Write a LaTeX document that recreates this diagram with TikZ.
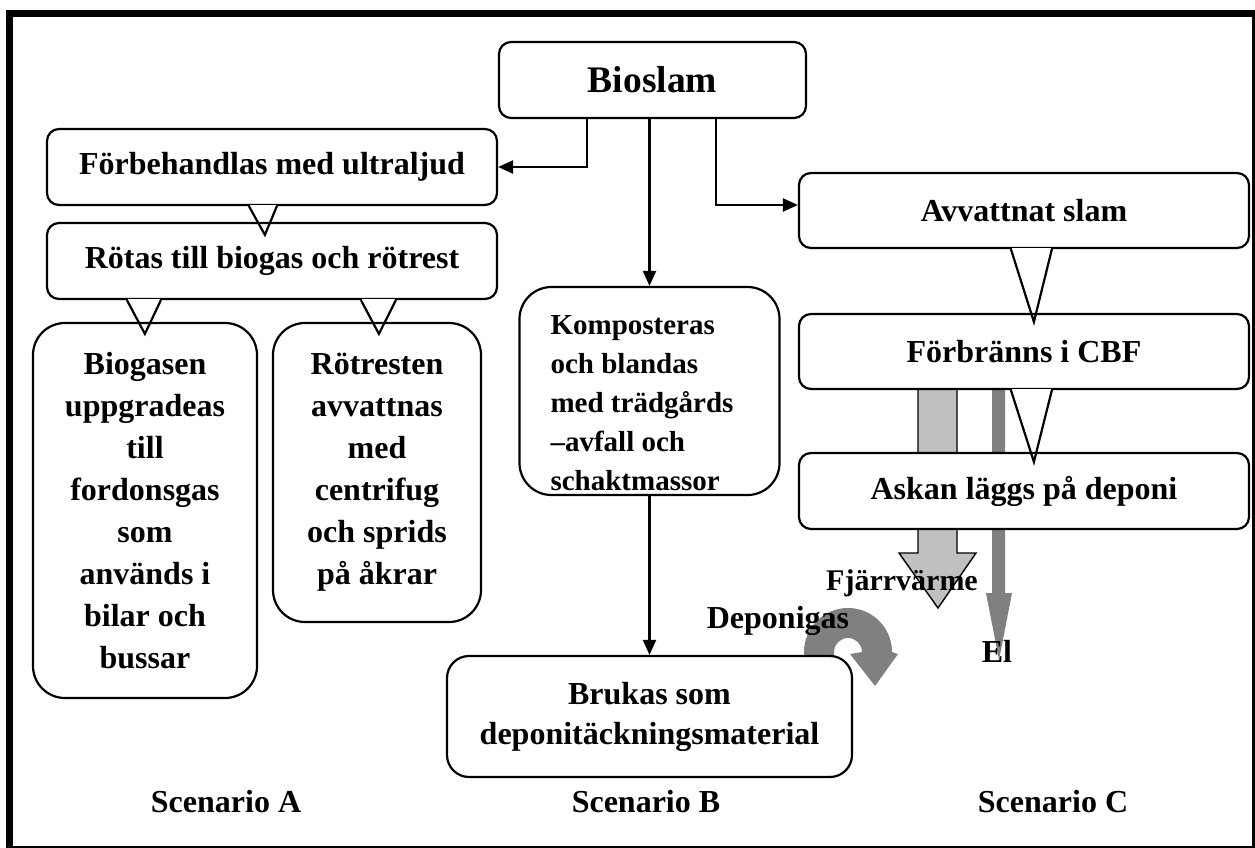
\documentclass[tikz,border=0pt]{standalone}
\usepackage{fontspec}
\setmainfont{Liberation Serif}
\usetikzlibrary{arrows.meta,calc}
\definecolor{lightgrey}{HTML}{C0C0C0}
\definecolor{midgrey}{HTML}{808080}
\begin{document}
\begin{tikzpicture}[x=1pt,y=-1pt,
  rbox/.style={draw,line width=2.2pt,fill=white,rounded corners=12pt,inner sep=0pt,
    align=center,font=\bfseries\fontsize{32}{42}\selectfont},
  tallbox/.style={rbox,rounded corners=32pt},
  conn/.style={line width=2.2pt,-{Triangle[length=15pt,width=13pt]}},
  tailline/.style={line width=2.2pt,line join=miter},
  lbl/.style={inner sep=0pt,font=\bfseries\fontsize{32}{40}\selectfont},
]
\useasboundingbox (0,0) rectangle (1255,848);

% page frame: heavy left and top rules, light right and bottom rules
\fill (6,10) rectangle (13,848);
\fill (6,10) rectangle (1255,17);
\fill (1252,10) rectangle (1255,848);
\fill (6,846) rectangle (1255,848);

% energy outputs of scenario C (behind the boxes)
\filldraw[fill=lightgrey,draw=black,line width=1.4pt]
  (918,385) -- (918,553) -- (899,553) -- (938,608) -- (976,553) -- (957,553) -- (957,385) -- cycle;
\fill[midgrey]
  (992,385) -- (992,593) -- (986,593) -- (999,660) -- (1012,593) -- (1005,593) -- (1005,385) -- cycle;

% curved landfill-gas arrow of scenario B
\fill[midgrey] (804,662) -- (804,652) arc[start angle=180,end angle=0,radius=44pt]
  -- (898,654) -- (875,686) -- (850,654) -- (862,652)
  arc[start angle=0,end angle=180,radius=14pt] -- (834,662) -- cycle;

% boxes
\node[rbox,minimum width=307pt,minimum height=76pt,font=\bfseries\fontsize{37.5}{40}\selectfont]
  (bio) at (652.5,80) {Bioslam};

\node[rbox,minimum width=450pt,minimum height=76pt] (forb) at (272,167) {Förbehandlas med ultraljud};
\node[rbox,minimum width=450pt,minimum height=76pt] (rot) at (272,261) {Rötas till biogas och rötrest};
\node[tallbox,minimum width=224pt,minimum height=375pt] (biog) at (145,510.5)
  {Biogasen\\uppgradeas\\till\\fordonsgas\\som\\används i\\bilar och\\bussar};
\node[tallbox,minimum width=208pt,minimum height=299pt] (rotr) at (377,472.5)
  {Rötresten\\avvattnas\\med\\centrifug\\och sprids\\på åkrar};

\node[tallbox,minimum width=260pt,minimum height=208pt] (komp) at (649.5,391) {};
\node[inner sep=0pt,align=left,font=\bfseries\fontsize{29}{39}\selectfont] (kompt) at (642,403.5)
  {Komposteras\\och blandas\\med trädgårds\\–avfall och\\schaktmassor};
\node[rbox,rounded corners=22pt,minimum width=405pt,minimum height=121pt,
  font=\bfseries\fontsize{32}{40}\selectfont] (bruk) at (649.5,716.5)
  {Brukas som\\deponitäckningsmaterial};

\node[rbox,minimum width=450pt,minimum height=75pt] (avv) at (1024,210.5) {Avvattnat slam};
\node[rbox,minimum width=450pt,minimum height=75pt] (forbr) at (1024,351.5) {Förbränns i CBF};
\node[rbox,minimum width=450pt,minimum height=76pt] (ask) at (1024,491) {Askan läggs på deponi};

% callout tails: base points on the upper box, tip inside the lower box
\coordinate (t1a) at ($(forb.south west)+(203,0)$);
\coordinate (t1b) at ($(forb.south west)+(231,0)$);
\coordinate (t1t) at ($(rot.north west)+(219,13)$);
\coordinate (t2a) at ($(rot.south west)+(81,0)$);
\coordinate (t2b) at ($(rot.south west)+(115,0)$);
\coordinate (t2t) at ($(biog.north west)+(113,12)$);
\coordinate (t3a) at ($(rot.south west)+(315,0)$);
\coordinate (t3b) at ($(rot.south west)+(350,0)$);
\coordinate (t3t) at ($(rotr.north west)+(107,12)$);
\coordinate (t4a) at ($(avv.south west)+(213,0)$);
\coordinate (t4b) at ($(avv.south west)+(254,0)$);
\coordinate (t4t) at ($(forbr.north west)+(236,9)$);
\coordinate (t5a) at ($(forbr.south west)+(213,0)$);
\coordinate (t5b) at ($(forbr.south west)+(254,0)$);
\coordinate (t5t) at ($(ask.north west)+(236,10)$);
\foreach \t in {t1,t2,t3,t4,t5}{
  \fill[white] ($(\t a)+(1.2,-1.5)$) rectangle ($(\t b)+(-1.2,1.5)$);
  \draw[tailline] (\t a) -- (\t t) -- (\t b);
}

% connectors
\draw[conn] ($(bio.south west)+(89,0)$) |- (forb.east);
\draw[conn] (bio.south -| komp.north) -- (komp.north);
\draw[conn] (komp.south) -- (bruk.north);
\draw[conn] ($(bio.south west)+(218,0)$) |- ($(avv.west)+(0,-5.5)$);

% output labels
\node[lbl,anchor=base,font=\bfseries\fontsize{30}{36}\selectfont] (fjv) at (902,590) {Fjärrvärme};
\node[lbl,anchor=base] (dgas) at (778,628) {Deponigas};
\node[lbl,anchor=base] (el) at (997,662) {El};

% scenario captions
\node[lbl,anchor=base] (scA) at (226,812) {Scenario A};
\node[lbl,anchor=base] (scB) at (646,812) {Scenario B};
\node[lbl,anchor=base] (scC) at (1053,812) {Scenario C};
\end{tikzpicture}
\end{document}
